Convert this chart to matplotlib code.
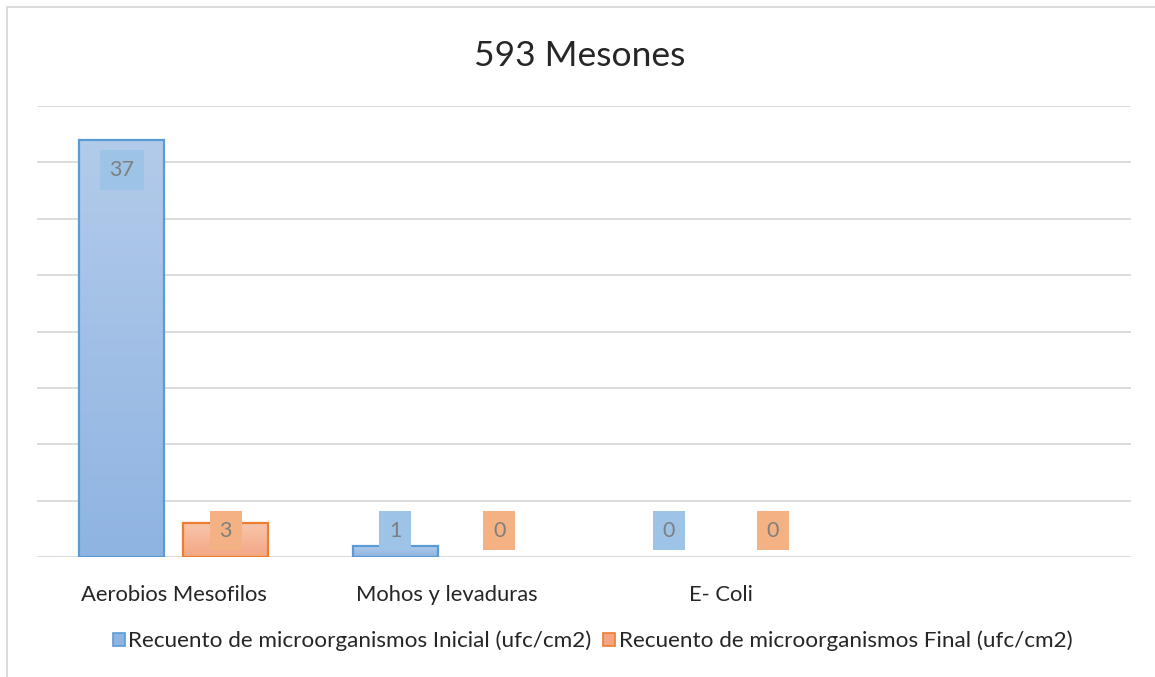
import matplotlib.pyplot as plt
import matplotlib.patches as mpatches
from matplotlib.colors import LinearSegmentedColormap
import numpy as np

plt.rcParams['font.family'] = ['Lato', 'DejaVu Sans']

# datos
categorias = ["Aerobios Mesofilos", "Mohos y levaduras", "E- Coli", ""]
inicial = [37, 1, 0]
final = [3, 0, 0]
series = ["Recuento de microorganismos Inicial (ufc/cm2)",
          "Recuento de microorganismos Final (ufc/cm2)"]
titulo = "593 Mesones"

# estilos por serie: (color arriba, color abajo, borde, fondo etiqueta)
estilos = [
    ("#b3cbea", "#8fb4e2", "#5b9bd5", "#9dc3e6"),
    ("#f8c6ab", "#f4a684", "#ed7d31", "#f4b183"),
]

fig = plt.figure(figsize=(11.55, 6.77), dpi=100)
ax = fig.add_axes([37 / 1155, 120 / 677, 1094 / 1155, 451 / 677])

# marco del gráfico
fig.patches.append(mpatches.Rectangle((7 / 1155, -0.1), 1.2, 1 - 7 / 677 + 0.1,
                                      transform=fig.transFigure, fill=False,
                                      ec="#d9d9d9", lw=1.3))

ax.set_xlim(-0.5, len(categorias) - 0.5)
ax.set_ylim(0, 40)
ax.set_yticks(np.arange(0, 41, 5))
ax.yaxis.grid(True, color="#d9d9d9", lw=1.3)
ax.set_axisbelow(True)
for s in ax.spines.values():
    s.set_visible(False)
ax.tick_params(left=False, bottom=False, labelleft=False)
ax.set_xticks(range(len(categorias)))
ax.set_xticklabels(categorias, fontsize=15.8, color="#262626")
ax.tick_params(axis="x", pad=17)

ancho = 0.311
offs = [-0.19, 0.19]
x = np.arange(len(inicial))

for vals, off, (c_top, c_bot, borde, fondo) in zip([inicial, final], offs, estilos):
    cmap = LinearSegmentedColormap.from_list("g", [c_bot, c_top])
    bars = ax.bar(x + off, vals, ancho, facecolor="none", edgecolor=borde,
                  linewidth=1.6, zorder=3)
    grad = np.linspace(0, 1, 256).reshape(-1, 1)
    for b, v in zip(bars, vals):
        if v > 0:
            im = ax.imshow(grad, cmap=cmap, origin="lower", aspect="auto",
                           extent=[b.get_x(), b.get_x() + b.get_width(), 0, v],
                           zorder=2)
            im.set_clip_path(b)
        else:
            b.set_edgecolor("none")
        ax.annotate(f"{v}", (b.get_x() + b.get_width() / 2, max(v, 5)),
                    xytext=(0, -30), textcoords="offset pixels",
                    ha="center", va="center", fontsize=15.5, color="#7f7f7f",
                    zorder=5,
                    bbox=dict(boxstyle="square,pad=0.45", fc=fondo, ec="none"))

ax.set_xlim(-0.5, len(categorias) - 0.5)
ax.set_ylim(0, 40)

fig.text(0.502, 1 - 56 / 677, titulo, ha="center", va="center",
         fontsize=25.5, color="#262626")

handles = [mpatches.Patch(fc=e[1], ec=e[2], lw=1.2, label=s)
           for s, e in zip(series, estilos)]
fig.legend(handles=handles, loc="center", bbox_to_anchor=(0.513, 1 - 641 / 677),
           ncol=2, frameon=False, fontsize=16.2, handlelength=0.55,
           handleheight=0.55, handletextpad=0.15, columnspacing=0.5,
           labelcolor="#262626")

fig.savefig("out.png", dpi=100)
